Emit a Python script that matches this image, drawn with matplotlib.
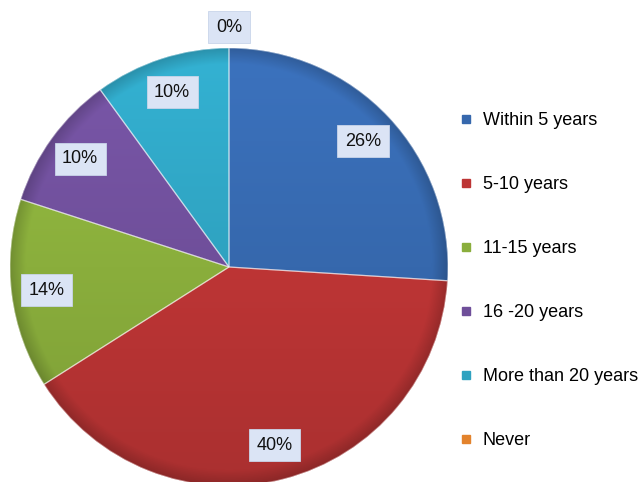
import numpy as np
import matplotlib
matplotlib.use("Agg")
import matplotlib.pyplot as plt
from matplotlib.lines import Line2D
from matplotlib.patches import Wedge
from matplotlib.colors import to_rgb

plt.rcParams['font.family'] = ['Liberation Sans', 'DejaVu Sans']

categories = ["Within 5 years", "5-10 years", "11-15 years", "16 -20 years",
              "More than 20 years", "Never"]
shares = [26, 40, 14, 10, 10, 0]
colors = ["#3668ad", "#bd3535", "#8aae3c", "#6f4f9a", "#2fa2c0", "#e3832c"]

fig = plt.figure(figsize=(6.43, 4.82), dpi=100)
fig.patch.set_facecolor("white")

# pie centred at (229, 267) px, radius 219 px
W, H = 643, 482
cx, cy, R = 229, 267, 219
ax = fig.add_axes([(cx - R) / W, (H - cy - R) / H, 2 * R / W, 2 * R / H])

wedges, _ = ax.pie(shares, colors=colors, startangle=90, counterclock=False,
                   radius=1.0, center=(0, 0),
                   wedgeprops=dict(edgecolor="none", linewidth=0))
ax.set_xlim(-1, 1)
ax.set_ylim(-1, 1)
ax.set_aspect("equal")
ax.axis("off")

# soft shading inside each slice: lighter towards the top, darker at the rim
n = 300
gx, gy = np.meshgrid(np.linspace(-1, 1, n), np.linspace(1, -1, n))
rr = np.sqrt(gx ** 2 + gy ** 2)
shade = 1.0 + 0.10 * gy
rim = np.clip((rr - 0.93) / 0.07, 0, 1)
shade = shade * (1 - 0.18 * rim)
for w, c in zip(wedges, colors):
    if w.theta2 - w.theta1 <= 0:
        continue
    base = np.array(to_rgb(c))
    img = np.clip(base[None, None, :] * shade[:, :, None], 0, 1)
    im = ax.imshow(img, extent=(-1, 1, -1, 1), zorder=2, interpolation="bilinear")
    im.set_clip_path(w)
    ax.add_patch(Wedge((0, 0), 1.0, w.theta1, w.theta2, facecolor="none",
                       edgecolor=(1, 1, 1, 0.45), linewidth=0.9, zorder=3))

# percentage labels in light boxes
for w, v in zip(wedges, shares):
    mid = np.deg2rad((w.theta1 + w.theta2) / 2)
    d = 0.84 if v > 0 else 1.095
    ax.text(d * np.cos(mid), d * np.sin(mid), f"{v}%", ha="center", va="center",
            fontsize=13, color="#111111", zorder=5, clip_on=False,
            bbox=dict(boxstyle="square,pad=0.42", facecolor="#dbe4f5",
                      edgecolor="#c9d5ea", linewidth=0.6))

handles = [Line2D([0], [0], marker="s", linestyle="none", markersize=6,
                  markerfacecolor=c, markeredgecolor=c) for c in colors]
fig.legend(handles, categories, loc="center left",
           bbox_to_anchor=(461 / W, 1 - 280.5 / H), frameon=False,
           fontsize=13, handlelength=0.6, handletextpad=0.6,
           labelspacing=2.6, borderpad=0, borderaxespad=0)

fig.savefig("out.png", dpi=100, facecolor="white")
